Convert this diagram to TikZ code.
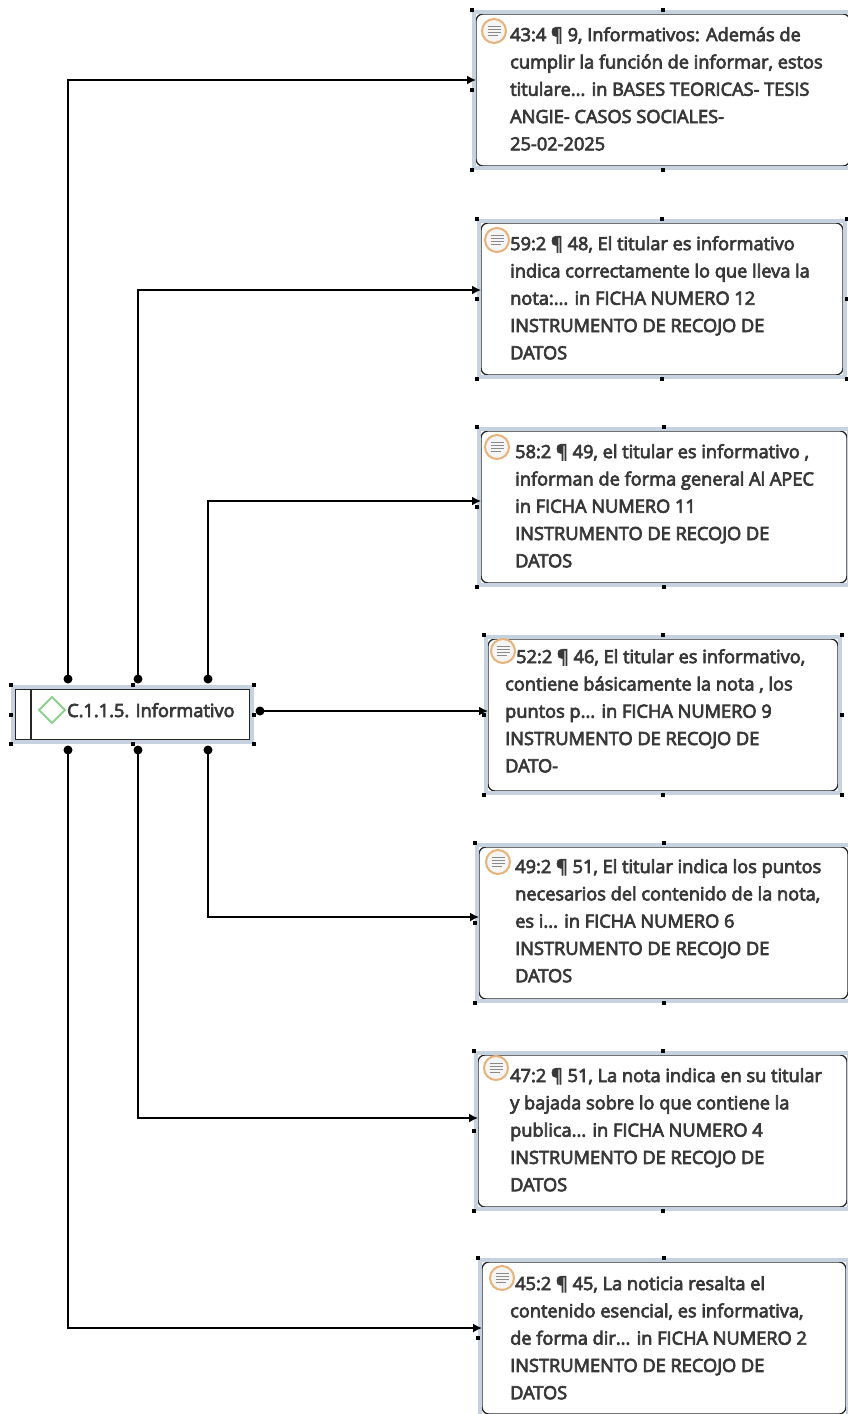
\documentclass[tikz,border=0pt]{standalone}
\usepackage{fontspec}
\newfontfamily\atlasfont{Open Sans}
% slightly heavier strokes for the node text
\newcommand\semiweight{\special{pdf:literal direct 2 Tr 0.7 w}}
\usepackage{tikz}
\usetikzlibrary{arrows.meta,calc,fit}
\definecolor{ink}{HTML}{383838}
\definecolor{selblue}{HTML}{C6D2DF}
\definecolor{noteorange}{HTML}{E8B27A}
\definecolor{notebar}{HTML}{8A8A8A}
\definecolor{codegreen}{HTML}{8ED28E}
\tikzset{
  quotebox/.style={draw=black!85, line width=1.3pt, rounded corners=7pt, fill=white,
    minimum height=152pt, outer sep=0pt, inner sep=0pt, anchor=north west},
  srcbox/.style={draw=black!85, line width=1.3pt, fill=white, minimum width=235pt,
    minimum height=51pt, outer sep=0pt, inner sep=0pt},
  qtext/.style={text=ink, font=\atlasfont\fontsize{18.2}{27.3}\selectfont\semiweight, align=left,
    inner sep=0pt, anchor=north west},
  selframe/.style={draw=selblue, line width=4pt, inner sep=2pt},
  link/.style={draw=black, line width=1.6pt, -{Latex[length=9pt,width=9pt]}},
  dot/.style={circle, fill=black, inner sep=0pt, minimum size=9pt}
}
% small black squares on a selection frame
\newcommand\selhandles[1]{%
  \foreach \a in {north west,north,north east,east,south east,south,south west,west}
    \fill (#1.\a) ++(-2,-2) rectangle ++(4,4);}
% quotation icon
\newcommand\noteicon[1]{%
  \draw[noteorange, line width=2pt, fill=black!4] (#1) circle [radius=12pt];
  \foreach \dy/\len in {-4.5/6.5, -1.5/6.5, 1.5/6.5, 4.5/4}
    \draw[notebar, line width=1.6pt] ($(#1)+(-6.5,\dy)$) -- ++(6.5+\len,0);}

\begin{document}
\begin{tikzpicture}[x=1pt,y=-1pt]
  \useasboundingbox (0,0) rectangle (848,1414);
  \fill[white] (0,0) rectangle (848,1414);

  % quotation boxes
  \foreach \n/\x/\y/\w/\ay in {1/476/14/374/80, 2/481/223/362/290, 3/481/431/366/501,
      4/488/639/350/711, 5/479/847/369/917, 6/478/1055/369/1118, 7/482/1262/364/1328}{
    \node[quotebox, minimum width=\w] (q\n) at (\x,\y) {};
    \node[selframe, fit=(q\n)] (f\n) {};
    \selhandles{f\n}
    \coordinate (in\n) at (\x,\ay);
  }

  \noteicon{494,31}
  \node[qtext] (q1t) at (510,27) {43:4 ¶ 9, Informativos: Además de\\cumplir la función de informar, estos\\titulare... in BASES TEORICAS- TESIS\\ANGIE- CASOS SOCIALES-\\25-02-2025};
  \noteicon{497,240}
  \node[qtext] (q2t) at (510,236) {59:2 ¶ 48, El titular es informativo\\indica correctamente lo que lleva la\\nota:... in FICHA NUMERO 12\\INSTRUMENTO DE RECOJO DE\\DATOS};
  \noteicon{497,447}
  \node[qtext] (q3t) at (515,444) {58:2 ¶ 49, el titular es informativo ,\\informan de forma general Al APEC\\in FICHA NUMERO 11\\INSTRUMENTO DE RECOJO DE\\DATOS};
  \noteicon{503,651}
  \node[qtext] (q4t) at (505,649) {\hspace*{11pt}52:2 ¶ 46, El titular es informativo,\\contiene básicamente la nota , los\\puntos p... in FICHA NUMERO 9\\INSTRUMENTO DE RECOJO DE\\DATO-};
  \noteicon{498,862}
  \node[qtext] (q5t) at (515,859) {49:2 ¶ 51, El titular indica los puntos\\necesarios del contenido de la nota,\\es i... in FICHA NUMERO 6\\INSTRUMENTO DE RECOJO DE\\DATOS};
  \noteicon{496,1068}
  \node[qtext] (q6t) at (510,1068) {47:2 ¶ 51, La nota indica en su titular\\y bajada sobre lo que contiene la\\publica... in FICHA NUMERO 4\\INSTRUMENTO DE RECOJO DE\\DATOS};
  \noteicon{502,1278}
  \node[qtext] (q7t) at (510,1276) {\hspace*{5pt}45:2 ¶ 45, La noticia resalta el\\contenido esencial, es informativa,\\de forma dir... in FICHA NUMERO 2\\INSTRUMENTO DE RECOJO DE\\DATOS};

  % code node
  \node[srcbox] (src) at (132.5,714.5) {};
  \node[selframe, fit=(src)] (fs) {};
  \selhandles{fs}
  \draw[black!85, line width=1.3pt] ([xshift=16pt]src.north west) -- ([xshift=16pt]src.south west);
  \draw[codegreen, line width=1.8pt] (52,697) -- (65,710) -- (52,723) -- (39,710) -- cycle;
  \node[qtext, anchor=base west] (srclabel) at (67,717) {C.1.1.5. Informativo};

  % connector ends on the code node
  \node[dot] (t1) at (68,679) {};
  \node[dot] (t2) at (138,679) {};
  \node[dot] (t3) at (208,679) {};
  \node[dot] (r1) at (260,711) {};
  \node[dot] (b3) at (208,750) {};
  \node[dot] (b2) at (138,750) {};
  \node[dot] (b1) at (68,750) {};

  \draw[link] (t1.center) |- (in1);
  \draw[link] (t2.center) |- (in2);
  \draw[link] (t3.center) |- (in3);
  \draw[link] (r1.center) -- (in4);
  \draw[link] (b3.center) |- (in5);
  \draw[link] (b2.center) |- (in6);
  \draw[link] (b1.center) |- (in7);
\end{tikzpicture}
\end{document}
